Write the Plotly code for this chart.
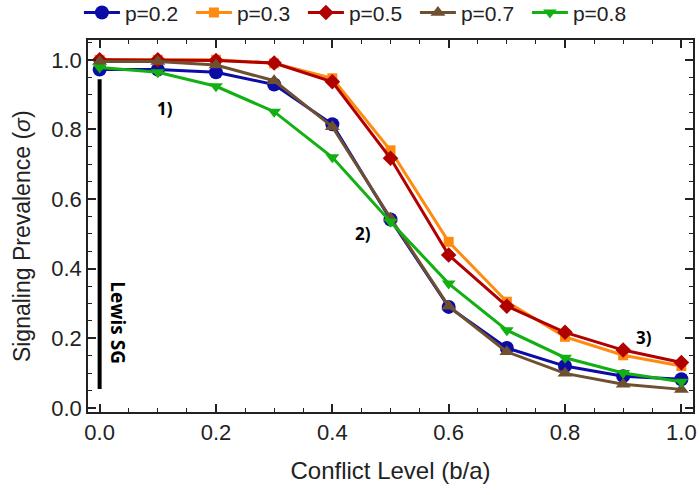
import plotly.graph_objects as go

x_vals = [0.0, 0.1, 0.2, 0.3, 0.4, 0.5, 0.6, 0.7, 0.8, 0.9, 1.0]
series_names = ["p=0.2", "p=0.3", "p=0.5", "p=0.7", "p=0.8"]
p02 = [0.972, 0.972, 0.964, 0.929, 0.815, 0.541, 0.290, 0.172, 0.120, 0.091, 0.082]
p03 = [1.0, 1.0, 1.0, 0.990, 0.947, 0.740, 0.477, 0.305, 0.204, 0.151, 0.120]
p05 = [1.0, 1.0, 0.998, 0.991, 0.937, 0.717, 0.439, 0.292, 0.217, 0.166, 0.130]
p07 = [0.995, 0.995, 0.985, 0.940, 0.808, 0.545, 0.292, 0.161, 0.099, 0.068, 0.053]
p08 = [0.978, 0.964, 0.924, 0.851, 0.720, 0.535, 0.357, 0.223, 0.144, 0.100, 0.075]
series_values = [p02, p03, p05, p07, p08]
tick_vals = [0, 0.2, 0.4, 0.6, 0.8, 1.0]
tick_text = ["0.0", "0.2", "0.4", "0.6", "0.8", "1.0"]

colors = ["#0b0ba6", "#ff8a10", "#b00000", "#6e5030", "#12b012"]
symbols = ["circle", "square", "diamond", "triangle-up", "triangle-down"]
sizes = [14, 10, 12, 13, 12]

fig = go.Figure()
for name, vals, c, s, sz in zip(series_names, series_values, colors, symbols, sizes):
    fig.add_trace(go.Scatter(
        x=x_vals, y=vals, name=name, mode="lines+markers",
        line=dict(color=c, width=3),
        marker=dict(symbol=s, size=sz, color=c, line=dict(width=0)),
    ))

# Lewis SG bar
fig.add_shape(type="line", x0=0, x1=0, y0=0.054, y1=0.944, xref="x", yref="y",
              line=dict(color="black", width=4))

font_fam = "Liberation Sans, Arial, sans-serif"
bold_fam = "Open Sans, Liberation Sans, sans-serif"
fig.add_annotation(x=0.032, y=0.245, xref="x", yref="y", text="<b>Lewis SG</b>",
                   textangle=90, showarrow=False, font=dict(size=19, color="black", family=bold_fam))
for txt, ax, ay in [("1)", 0.1125, 0.861), ("2)", 0.453, 0.502), ("3)", 0.936, 0.203)]:
    fig.add_annotation(x=ax, y=ay, xref="x", yref="y", text="<b>" + txt + "</b>",
                       showarrow=False, font=dict(size=17, color="black", family=bold_fam))

# y-axis title
fig.add_annotation(x=-0.109, y=0.473, xref="paper", yref="paper",
                   text="Signaling Prevalence (<i>σ</i>)", textangle=-90, showarrow=False,
                   xanchor="center", yanchor="middle",
                   font=dict(size=23, family=font_fam, color="#222"))

axis_common = dict(
    showgrid=False, zeroline=False, showline=True, linecolor="#222", linewidth=1.5,
    mirror="ticks", ticks="inside", ticklen=8, tickwidth=1.5, tickcolor="#222",
    tickfont=dict(size=22, family=font_fam, color="#222"),
    minor=dict(ticks="inside", ticklen=4, tickwidth=1, tickcolor="#222", dtick=0.05),
)

fig.update_layout(
    width=700, height=495,
    margin=dict(l=88, r=7, t=40, b=83, autoexpand=False),
    plot_bgcolor="white", paper_bgcolor="white",
    font=dict(family=font_fam, color="#222"),
    xaxis=dict(range=[-0.02, 1.02], tickvals=tick_vals, ticktext=tick_text,
               title=dict(text="Conflict Level (b/a)", font=dict(size=24, family=font_fam), standoff=18),
               **axis_common),
    yaxis=dict(range=[-0.012, 1.057], tickvals=tick_vals, ticktext=tick_text,
               **axis_common),
    legend=dict(orientation="h", x=-0.015, xanchor="left", y=1.073, yanchor="middle",
                font=dict(size=21, family=font_fam), bgcolor="rgba(0,0,0,0)",
                itemwidth=36, entrywidth=61, entrywidthmode="pixels", tracegroupgap=0),
    showlegend=True,
)

fig.write_html("out.html")
